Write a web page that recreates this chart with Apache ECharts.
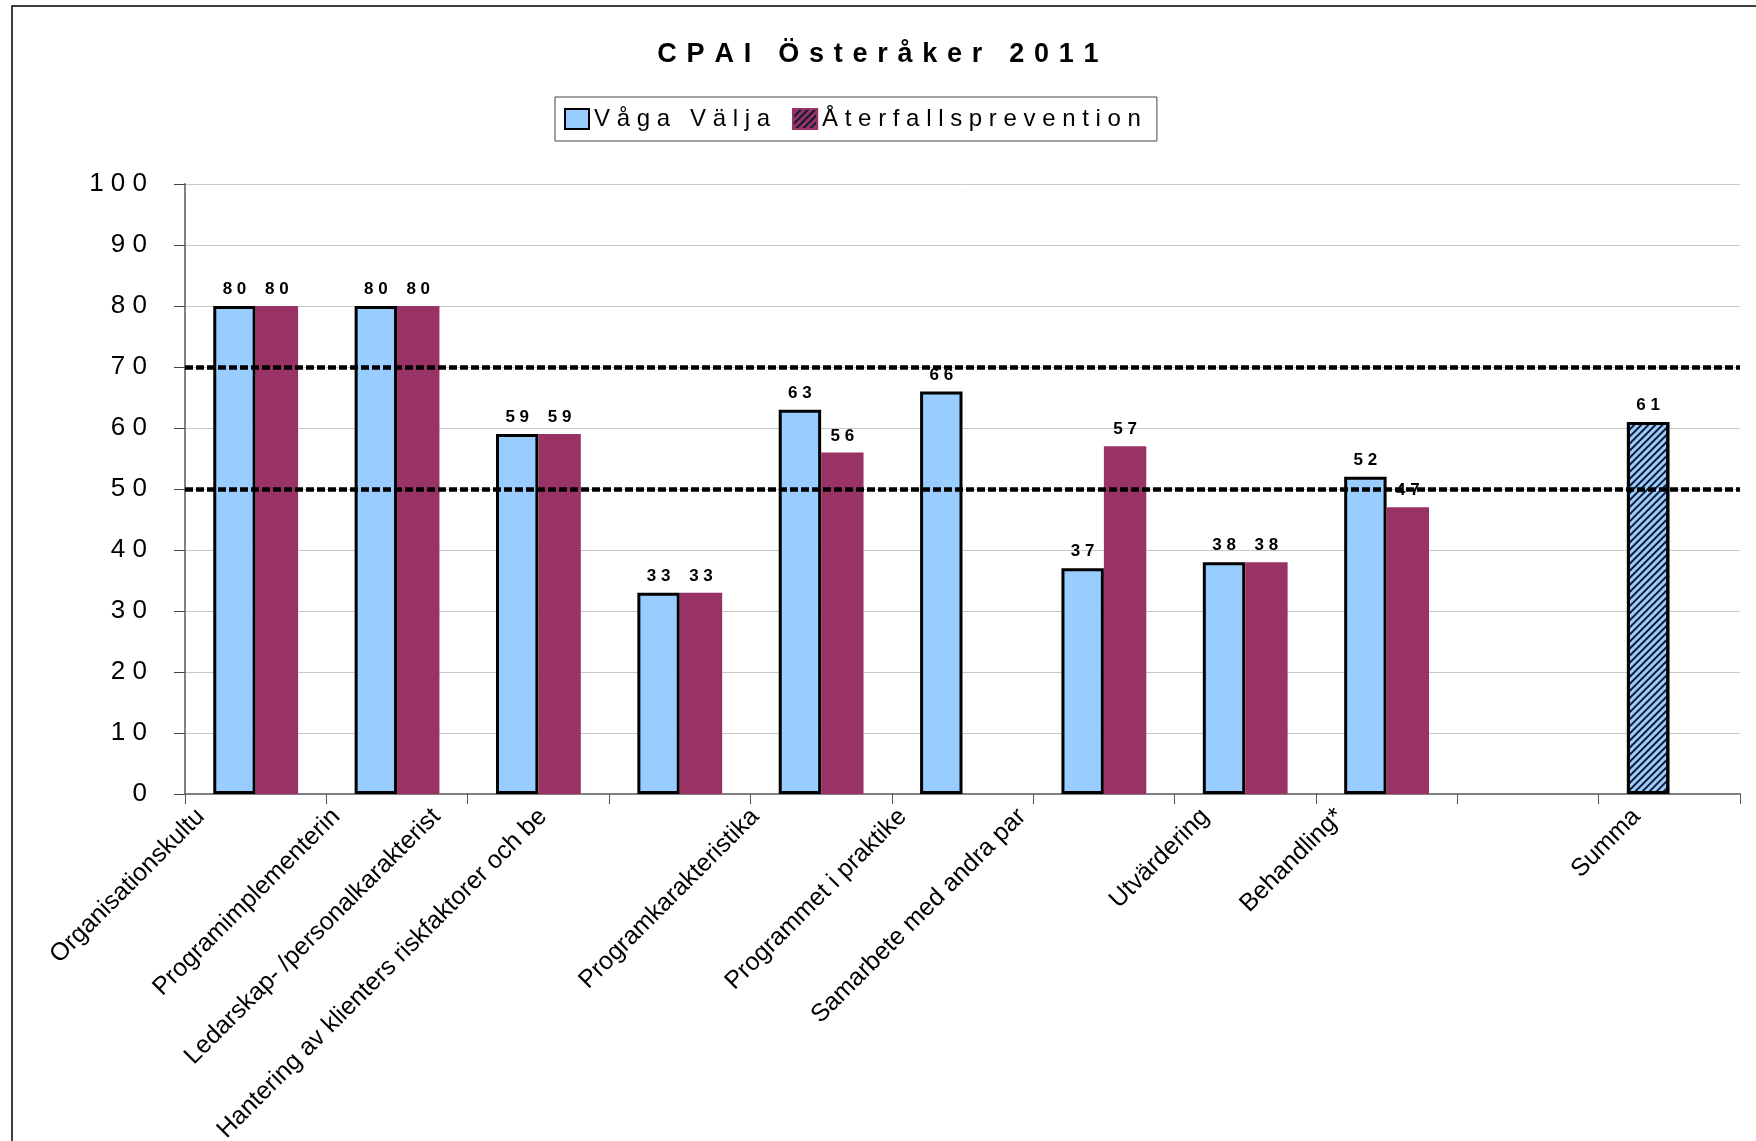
<!DOCTYPE html>
<html>
<head>
<meta charset="utf-8">
<title>CPAI Österåker 2011</title>
<script src="https://cdn.jsdelivr.net/npm/echarts@6/dist/echarts.min.js"></script>
<style>
    html, body { margin: 0; padding: 0; background: #fff; }
    #grafico { width: 1756px; height: 1141px; }
</style>
</head>
<body>
<div id="grafico"></div>
<script>
// data
var categories = [
    'Organisationskultur',
    'Programimplementering',
    'Ledarskap- /personalkarakteristika',
    'Hantering av klienters riskfaktorer och behov',
    'Programkarakteristika',
    'Programmet i praktiken',
    'Samarbete med andra parter',
    'Utvärdering',
    'Behandling*',
    '',
    'Summa'
];
// the labels as they show (Excel cut them off)
var tickLabels = [
    'Organisationskultu',
    'Programimplementerin',
    'Ledarskap- /personalkarakterist',
    'Hantering av klienters riskfaktorer och be',
    'Programkarakteristika',
    'Programmet i praktike',
    'Samarbete med andra par',
    'Utvärdering',
    'Behandling*',
    '',
    'Summa'
];
var vagaValja = [80, 80, 59, 33, 63, 66, 37, 38, 52, null, 61];
var aterfall = [80, 80, 59, 33, 56, null, 57, 38, 47, null, null];
var refLines = [70, 50];
var summaIndex = 10;

// horizontal nudge (px) of each rotated tick label, Excel places them a bit off
var labelNudge = [-10, -16, -57, -92, -21, -15, -37, 5, -2, 0, 12];

var spaced = function (s, sep) {
    return String(s).split('').join(sep || ' ');
};

var hatch = {
    symbol: 'rect',
    symbolSize: 1,
    dashArrayX: [1, 0],
    dashArrayY: [2, 2.5],
    rotation: -Math.PI / 4,
    color: '#101a30'
};

var serie1 = vagaValja.map(function (v, i) {
    if (i === summaIndex) {
        return { value: v, itemStyle: { decal: hatch } };
    }
    return v;
});

// at 45deg: right padding slides the label down-left, bottom padding lifts it up-left
var xData = categories.map(function (c, i) {
    var k = labelNudge[i] / 1.414;
    return {
        value: c,
        textStyle: {
            verticalAlign: 'bottom',
            padding: [0, Math.max(0, 33 - k), Math.max(0, 18 - k), 0]
        }
    };
});

var barLabel = {
    show: true,
    position: 'top',
    distance: 8,
    fontFamily: 'Liberation Sans',
    fontSize: 17,
    fontWeight: 'bold',
    color: '#000',
    formatter: function (p) { return p.value == null ? '' : spaced(p.value); }
};

var myChart = echarts.init(document.getElementById('grafico'));

var option = {
    backgroundColor: '#fff',
    animation: false,
    textStyle: { fontFamily: 'Liberation Sans', color: '#000' },
    graphic: [{
        type: 'rect',
        silent: true,
        shape: { x: 12, y: 6, width: 1800, height: 1200 },
        style: { fill: null, stroke: '#000', lineWidth: 1.5 }
    }],
    title: {
        text: spaced('CPAI Österåker 2011', ' \u200A'),
        left: 'center',
        top: 41,
        padding: 0,
        textStyle: { fontFamily: 'Liberation Sans', fontSize: 27, fontWeight: 'bold', color: '#000' }
    },
    legend: {
        left: 555,
        top: 97,
        padding: [10, 16, 10, 9],
        itemGap: 22,
        itemWidth: 24,
        itemHeight: 20,
        borderColor: '#444',
        borderWidth: 1,
        borderRadius: 0,
        formatter: function (name) { return spaced(name); },
        textStyle: { fontFamily: 'Liberation Sans', fontSize: 24, color: '#000' },
        data: [
            { name: 'Våga Välja', icon: 'rect' },
            { name: 'Återfallsprevention', icon: 'rect', itemStyle: { borderColor: '#993366', borderWidth: 2, decal: hatch } }
        ]
    },
    grid: { left: 185, right: 16, top: 184, bottom: 347, outerBoundsMode: 'none' },
    xAxis: {
        type: 'category',
        data: xData,
        boundaryGap: true,
        axisLine: { lineStyle: { color: '#808080', width: 2 } },
        axisTick: { show: true, length: 10, lineStyle: { color: '#555' } },
        axisLabel: {
            interval: 0,
            rotate: 45,
            margin: 17,
            verticalAlign: 'bottom',
            padding: [0, 33, 18, 0],
            fontFamily: 'Liberation Sans',
            fontSize: 25,
            color: '#000',
            formatter: function (v, i) { return tickLabels[i]; }
        }
    },
    yAxis: {
        type: 'value',
        min: 0,
        max: 100,
        interval: 10,
        axisLine: { show: true, lineStyle: { color: '#808080', width: 2 } },
        axisTick: { show: true, length: 11, lineStyle: { color: '#444' } },
        splitLine: { lineStyle: { color: '#c8c8c8', width: 1 } },
        axisLabel: {
            margin: 38,
            fontFamily: 'Liberation Sans',
            fontSize: 26,
            color: '#000',
            formatter: function (v) { return spaced(v); }
        }
    },
    series: [
        {
            name: 'Våga Välja',
            type: 'bar',
            data: serie1,
            barGap: '0%',
            barCategoryGap: '40%',
            itemStyle: { color: '#99CCFF', borderColor: '#000', borderWidth: 3 },
            label: barLabel,
            markLine: {
                silent: true,
                symbol: 'none',
                z: 5,
                label: { show: false },
                lineStyle: { color: '#000', width: 4.5, type: [8, 3] },
                data: refLines.map(function (y) { return { yAxis: y }; })
            }
        },
        {
            name: 'Återfallsprevention',
            type: 'bar',
            data: aterfall,
            barGap: '0%',
            barCategoryGap: '40%',
            itemStyle: { color: '#993366' },
            label: barLabel
        }
    ]
};

myChart.setOption(option);
</script>
</body>
</html>
